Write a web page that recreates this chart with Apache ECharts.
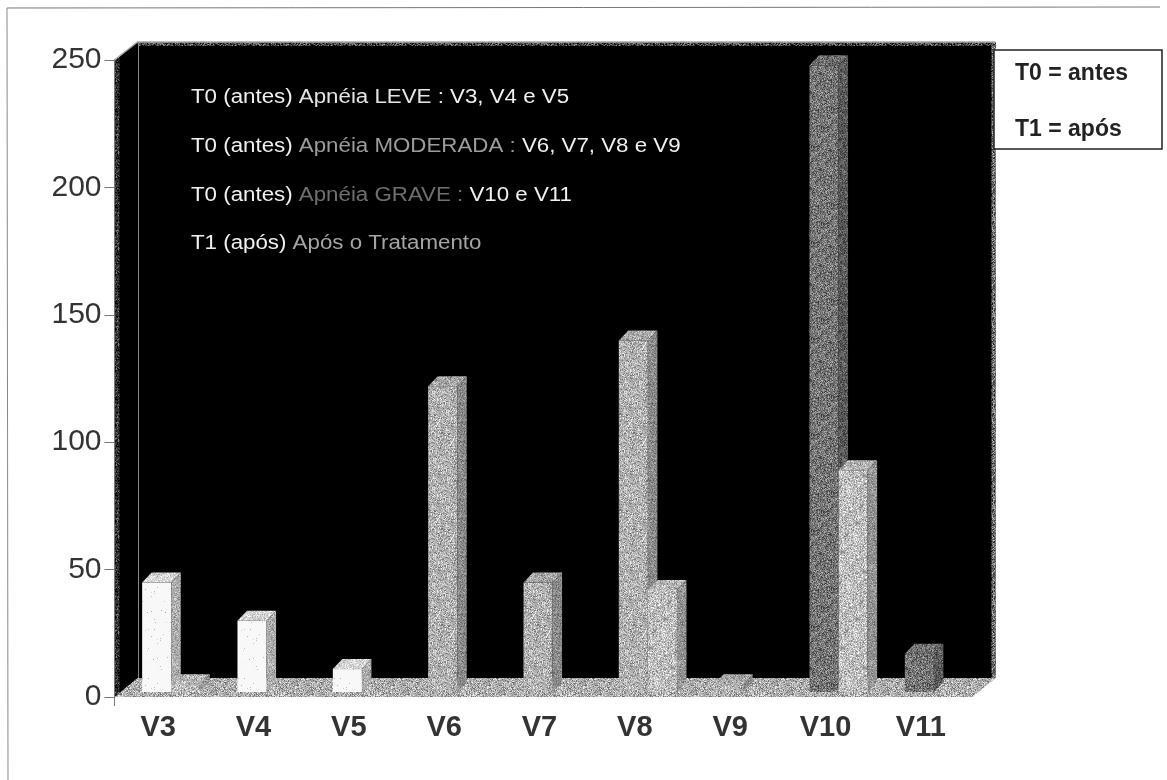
<!DOCTYPE html>
<html>
<head>
<meta charset="utf-8">
<style>
  html, body { margin: 0; padding: 0; background: #fff; }
  #container { width: 1167px; height: 780px; }
</style>
<script src="https://cdn.jsdelivr.net/npm/echarts@6/dist/echarts.min.js"></script>
</head>
<body>
<div id="container"></div>
<script>
var categories = ['V3', 'V4', 'V5', 'V6', 'V7', 'V8', 'V9', 'V10', 'V11'];
var t0Values = [43, 28, 9, 120, 43, 138, 3, 246, 15];
var t1Values = [3, 0, 0, 0, 0, 40, 0, 87, 0];
var yTicks = [0, 50, 100, 150, 200, 250];

var t0Colors = ['#f8f8f8', '#f8f8f8', '#f8f8f8', '#b0b0b0', '#b0b0b0', '#b0b0b0', '#b0b0b0', '#747474', '#747474'];
var t1Color = '#bcbcbc';

// fake 3d depth of the excel chart
var DEPTH_X = 23, DEPTH_Y = 18, FLOOR_DY = 19;
var BAR_DX = 9.5, BAR_DY = 10;

var myChart = echarts.init(document.getElementById('container'));

// scan grain, only a texture: small lcg so it comes out the same every time
var patternCache = {};
function grain(gray, amp, density) {
  var key = gray + '_' + amp + '_' + density;
  if (patternCache[key]) return patternCache[key];
  var size = 96, seed = gray * 31 + amp * 7 + 11;
  var cv = document.createElement('canvas');
  cv.width = size;
  cv.height = size;
  var ctx = cv.getContext('2d');
  ctx.fillStyle = 'rgb(' + gray + ',' + gray + ',' + gray + ')';
  ctx.fillRect(0, 0, size, size);
  for (var y = 0; y < size; y++) {
    for (var x = 0; x < size; x++) {
      seed = (seed * 1103515 + 12345) % 2147483;
      if ((seed % 1000) / 1000 > density) continue;
      seed = (seed * 1103515 + 12345) % 2147483;
      var g = Math.max(0, Math.min(255, gray + ((seed % 2000) / 1000 - 1) * amp));
      g = Math.round(g);
      ctx.fillStyle = 'rgb(' + g + ',' + g + ',' + g + ')';
      ctx.fillRect(x, y, 1, 1);
    }
  }
  patternCache[key] = { image: cv, repeat: 'repeat' };
  return patternCache[key];
}

function barFills(color) {
  var gray = parseInt(color.slice(1, 3), 16);
  if (gray > 230) {
    return { front: grain(gray, 90, 0.04), top: grain(212, 45, 0.6), side: grain(172, 50, 0.6) };
  }
  return { front: grain(gray, 65, 0.7), top: grain(Math.round(gray * 0.95), 55, 0.7), side: grain(Math.round(gray * 0.78), 45, 0.7) };
}

function renderRoom(params, api) {
  var cs = params.coordSys;
  var x0 = cs.x, x1 = cs.x + cs.width, top = cs.y, bot = cs.y + cs.height;
  var bx0 = x0 + DEPTH_X, bx1 = x1 + DEPTH_X, by0 = top - DEPTH_Y, by1 = bot - FLOOR_DY;
  return {
    type: 'group',
    silent: true,
    children: [
      { type: 'polygon', shape: { points: [[x0, top], [bx0, by0], [bx1, by0], [bx1, by1], [x0, bot]] }, style: { fill: '#000' } },
      { type: 'polygon', shape: { points: [[x0, top], [x0 + 5, top - 4], [x0 + 5, bot - 4], [x0, bot]] }, style: { fill: grain(50, 90, 0.5) } },
      { type: 'polygon', shape: { points: [[bx0, by0], [bx1, by0], [bx1, by0 + 4], [bx0, by0 + 4]] }, style: { fill: grain(70, 90, 0.7) } },
      { type: 'polygon', shape: { points: [[bx1 - 4, by0], [bx1, by0], [bx1, by1], [bx1 - 4, by1]] }, style: { fill: grain(110, 90, 0.8) } },
      { type: 'polyline', shape: { points: [[x0, top], [bx0, by0], [bx1, by0]] }, style: { fill: 'none', stroke: '#aaa', lineWidth: 1.5 } },
      { type: 'line', shape: { x1: bx0 + 1, y1: by0, x2: bx0 + 1, y2: by1 }, style: { stroke: '#888', lineWidth: 1 } },
      { type: 'polygon', shape: { points: [[x0, bot], [bx0, by1], [bx1, by1], [x1, bot]] }, style: { fill: grain(172, 70, 0.75) } },
      { type: 'line', shape: { x1: x0, y1: bot, x2: x0, y2: bot + 9 }, style: { stroke: '#777', lineWidth: 1 } }
    ]
  };
}

function makeBarRenderer(offset) {
  return function (params, api) {
    var value = api.value(1);
    if (!value) return null;
    var band = api.size([1, 0])[0];
    var base = api.coord([api.value(0), 0]);
    var head = api.coord([api.value(0), value]);
    var w = band * 0.305;
    var x = base[0] + offset * band;
    var yb = base[1] - 5, yt = head[1] - 5;
    var fills = barFills(api.visual('color'));
    return {
      type: 'group',
      children: [
        { type: 'rect', shape: { x: x, y: yt, width: w, height: yb - yt }, style: { fill: fills.front } },
        { type: 'polygon', shape: { points: [[x, yt], [x + BAR_DX, yt - BAR_DY], [x + w + BAR_DX, yt - BAR_DY], [x + w, yt]] }, style: { fill: fills.top } },
        { type: 'polygon', shape: { points: [[x + w, yt], [x + w + BAR_DX, yt - BAR_DY], [x + w + BAR_DX, yb - BAR_DY], [x + w, yb]] }, style: { fill: fills.side } }
      ]
    };
  };
}

// annotation line, the original type is wider than liberation so it gets stretched
function noteLine(y, text, accent) {
  var font = '20px "Liberation Sans"';
  return {
    type: 'text', z: 11, x: 191, y: y, scaleX: 1.115,
    style: {
      x: 0, y: 0, text: text, font: font, verticalAlign: 'middle',
      rich: { w: { fill: '#f0f0f0', font: font }, a: { fill: accent, font: font } }
    }
  };
}

var option = {
  animation: false,
  textStyle: { fontFamily: 'Liberation Sans' },
  grid: { left: 114.5, right: 194.5, top: 60, bottom: 83 },
  xAxis: {
    type: 'category',
    data: categories,
    axisLine: { show: false },
    axisTick: { show: false },
    axisLabel: { color: '#333', fontSize: 29, fontWeight: 'bold', margin: 16, padding: [0, 8, 0, 0] }
  },
  yAxis: {
    type: 'value',
    min: yTicks[0],
    max: yTicks[yTicks.length - 1],
    interval: 50,
    splitLine: { show: false },
    axisLine: { show: true, lineStyle: { color: '#777' } },
    axisTick: { show: true, length: 10, lineStyle: { color: '#777' } },
    axisLabel: { color: '#333', fontSize: 30, margin: 13 }
  },
  graphic: [
    { type: 'line', z: -10, shape: { x1: 7, y1: 8, x2: 1160, y2: 7 }, style: { stroke: '#777', lineWidth: 1 } },
    { type: 'line', z: -10, shape: { x1: 7, y1: 8, x2: 8, y2: 780 }, style: { stroke: '#888', lineWidth: 1 } },
    { type: 'rect', z: 10, shape: { x: 994, y: 50, width: 168, height: 99 }, style: { fill: '#fff', stroke: '#222', lineWidth: 1.5 } },
    { type: 'text', z: 11, style: { x: 1015, y: 74, text: 'T0 = antes', fill: '#222', verticalAlign: 'middle', font: 'bold 23px "Liberation Sans"' } },
    { type: 'text', z: 11, style: { x: 1015, y: 130, text: 'T1 = após', fill: '#222', verticalAlign: 'middle', font: 'bold 23px "Liberation Sans"' } },
    noteLine(97, '{w|T0 (antes)} {a|Apnéia LEVE :} {w|V3, V4 e V5}', '#e4e4e4'),
    noteLine(146, '{w|T0 (antes)} {a|Apnéia MODERADA :} {w|V6, V7, V8 e V9}', '#9c9c9c'),
    noteLine(195, '{w|T0 (antes)} {a|Apnéia GRAVE :} {w|V10 e V11}', '#6f6f6f'),
    noteLine(243, '{w|T1 (após)} {a|Após o Tratamento}', '#a4a4a4')
  ],
  series: [
    { name: 'room', type: 'custom', z: 0, silent: true, data: [[0, 0]], renderItem: renderRoom, encode: { x: 0, y: 1 } },
    {
      name: 'T0', type: 'custom', z: 2,
      renderItem: makeBarRenderer(-0.21),
      encode: { x: 0, y: 1 },
      data: t0Values.map(function (v, i) { return { value: [i, v], itemStyle: { color: t0Colors[i] } }; })
    },
    {
      name: 'T1', type: 'custom', z: 3,
      renderItem: makeBarRenderer(0.095),
      encode: { x: 0, y: 1 },
      itemStyle: { color: t1Color },
      data: t1Values.map(function (v, i) { return [i, v]; })
    }
  ]
};

myChart.setOption(option);
</script>
</body>
</html>
